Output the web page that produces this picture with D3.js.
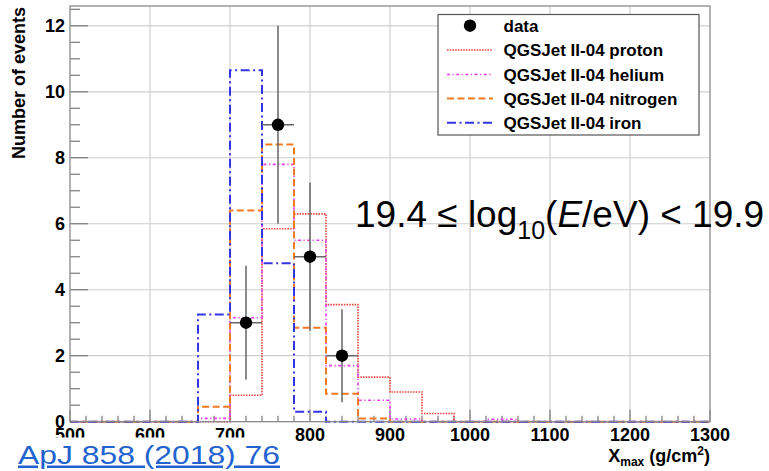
<!DOCTYPE html>
<html>
<head>
<meta charset="utf-8">
<script src="https://cdn.jsdelivr.net/npm/d3@7"></script>
<style>
  html, body { margin: 0; padding: 0; background: #fff; }
  svg { display: block; font-family: "Liberation Sans", Arial, Helvetica, sans-serif; }
</style>
</head>
<body>
<svg id="chart" width="769" height="471"></svg>
<script>
// ---- data ----
const binEdges = [500,540,580,620,660,700,740,780,820,860,900,940,980,1020,1060,1100,1140,1180,1220,1260,1300];
const proton   = [0,0,0,0,0,0.8,5.85,6.3,3.55,1.35,0.9,0.25,0,0,0,0,0,0,0,0];
const helium   = [0,0,0,0,0.1,3.15,7.8,5.5,1.7,0.65,0.08,0,0,0.07,0,0,0,0,0,0];
const nitrogen = [0,0,0,0,0.45,6.4,8.4,2.85,0.85,0.1,0,0,0,0,0,0,0,0,0,0];
const iron     = [0,0,0,0,3.25,10.65,4.8,0.3,0,0,0,0,0,0,0,0,0,0,0,0];
const dataX    = [720,760,800,840];
const dataN    = [3,9,5,2];
const dataErr  = [1.73,3,2.24,1.41];
const dataXErr = [20,20,20,20];
const xTicks   = [500,600,700,800,900,1000,1100,1200,1300];
const yTicks   = [0,2,4,6,8,10,12];
const seriesNames = ["QGSJet II-04 proton","QGSJet II-04 helium","QGSJet II-04 nitrogen","QGSJet II-04 iron"];

// ---- layout ----
const svg = d3.select("#chart");
const x = d3.scaleLinear().domain([500,1300]).range([70,710]);
const y = d3.scaleLinear().domain([0,12.6]).range([421.7,6]);
const frameCol = "#8a8a8a", gridCol = "#cfcfcf", tickCol = "#7a7a7a";

// grid
svg.append("g").selectAll("line").data(xTicks.slice(1,-1)).join("line")
  .attr("x1", d=>x(d)).attr("x2", d=>x(d)).attr("y1", y(0)).attr("y2", y(12.6))
  .attr("stroke", gridCol).attr("stroke-width", 1.2);
svg.append("g").selectAll("line").data(yTicks.slice(1)).join("line")
  .attr("x1", x(500)).attr("x2", x(1300)).attr("y1", d=>y(d)).attr("y2", d=>y(d))
  .attr("stroke", gridCol).attr("stroke-width", 1.2);

// ticks
const yMinor = d3.range(0, 12.51, 0.5);
svg.append("g").selectAll("line").data(yMinor).join("line")
  .attr("x1", x(500)).attr("x2", d => x(500) + (d % 2 === 0 ? 18 : 10))
  .attr("y1", d=>y(d)).attr("y2", d=>y(d))
  .attr("stroke", tickCol).attr("stroke-width", 1.2);
const xMinor = d3.range(500, 1301, 20);
svg.append("g").selectAll("line").data(xMinor).join("line")
  .attr("x1", d=>x(d)).attr("x2", d=>x(d))
  .attr("y1", y(0)).attr("y2", d => y(0) - (d % 100 === 0 ? 12 : 6))
  .attr("stroke", tickCol).attr("stroke-width", 1.2);

// histograms
const line = d3.line().x(d=>x(d[0])).y(d=>y(d[1])).curve(d3.curveStepAfter);
function pts(vals){ const p = vals.map((v,i)=>[binEdges[i], v]); p.push([binEdges[binEdges.length-1], vals[vals.length-1]]); return p; }
const styles = [
  {vals: proton,   color:"#e8413c", dash:"1.5,1.2", w:1.6},
  {vals: helium,   color:"#e83ee8", dash:"3,2.5,1.2,2.5", w:1.6},
  {vals: nitrogen, color:"#f07a22", dash:"7,3.5", w:2},
  {vals: iron,     color:"#3434e4", dash:"9,3.5,2,3.5", w:2}
];
styles.forEach(s => {
  svg.append("path").attr("d", line(pts(s.vals)))
    .attr("fill","none").attr("stroke", s.color).attr("stroke-width", s.w)
    .attr("stroke-dasharray", s.dash);
});

// data points
const dg = svg.append("g");
dataX.forEach((xv,i) => {
  dg.append("line").attr("x1", x(xv)).attr("x2", x(xv))
    .attr("y1", y(dataN[i]-dataErr[i])).attr("y2", y(dataN[i]+dataErr[i]))
    .attr("stroke","#666").attr("stroke-width",1.5);
  dg.append("line").attr("x1", x(xv-dataXErr[i])).attr("x2", x(xv+dataXErr[i]))
    .attr("y1", y(dataN[i])).attr("y2", y(dataN[i]))
    .attr("stroke","#666").attr("stroke-width",1.5);
  dg.append("circle").attr("cx", x(xv)).attr("cy", y(dataN[i])).attr("r", 6.2).attr("fill","#000");
});

// frame
svg.append("rect").attr("x", x(500)).attr("y", y(12.6)).attr("width", x(1300)-x(500)).attr("height", y(0)-y(12.6))
  .attr("fill","none").attr("stroke", frameCol).attr("stroke-width", 1.3);

// axis labels
svg.append("g").selectAll("text").data(yTicks).join("text")
  .attr("x", 65).attr("y", d=>y(d)).attr("dy","0.36em").attr("text-anchor","end")
  .attr("font-size", 18).attr("font-weight","bold").text(d=>d);
svg.append("g").selectAll("text").data(xTicks).join("text")
  .attr("x", d=>x(d)).attr("y", 440.5).attr("text-anchor","middle")
  .attr("font-size", 18).attr("font-weight","bold").text(d=>d);

svg.append("text").attr("transform","translate(25,7) rotate(-90)")
  .attr("text-anchor","end").attr("font-size",18).attr("font-weight","bold")
  .text("Number of events");

const xt = svg.append("text").attr("x", 710).attr("y", 461.5).attr("text-anchor","end")
  .attr("font-size",18).attr("font-weight","bold");
xt.append("tspan").text("X");
xt.append("tspan").attr("font-size",12).attr("dy",4).text("max");
xt.append("tspan").attr("dy",-4).text(" (g/cm");
xt.append("tspan").attr("font-size",12).attr("dy",-7).text("2");
xt.append("tspan").attr("dy",7).text(")");

// annotation
const an = svg.append("text").attr("x", 355).attr("y", 226.5).attr("font-size", 37);
an.append("tspan").text("19.4 \u2264 log");
an.append("tspan").attr("font-size", 25).attr("dy", 12).text("10");
an.append("tspan").attr("dy", -12).text("(");
an.append("tspan").attr("font-style","italic").text("E");
an.append("tspan").text("/eV) < 19.9");

// legend
const lg = svg.append("g");
lg.append("rect").attr("x",438).attr("y",14.5).attr("width",261).attr("height",120.5)
  .attr("fill","#fff").attr("stroke","#555").attr("stroke-width",1.2);
const rowY = [25.7, 50, 74.5, 98.6, 122.8];
lg.append("circle").attr("cx",470).attr("cy",rowY[0]).attr("r",6.2).attr("fill","#000");
lg.append("text").attr("x",503.5).attr("y",rowY[0]).attr("dy","0.36em")
  .attr("font-size",17).attr("font-weight","bold").text("data");
styles.forEach((s,i) => {
  lg.append("line").attr("x1",447).attr("x2",493).attr("y1",rowY[i+1]).attr("y2",rowY[i+1])
    .attr("stroke", s.color).attr("stroke-width", s.w).attr("stroke-dasharray", s.dash);
  lg.append("text").attr("x",503.5).attr("y",rowY[i+1]).attr("dy","0.36em")
    .attr("font-size",17).attr("font-weight","bold").text(seriesNames[i]);
});

// reference link overlay
svg.append("rect").attr("x",0).attr("y",437.5).attr("width",290).attr("height",34).attr("fill","#fff");
svg.append("text").attr("x",18).attr("y",463.5).attr("font-size",25.5).attr("fill","#2263cf")
  .attr("textLength",262).attr("lengthAdjust","spacingAndGlyphs")
  .attr("text-decoration","underline").text("ApJ 858 (2018) 76");
</script>
</body>
</html>
